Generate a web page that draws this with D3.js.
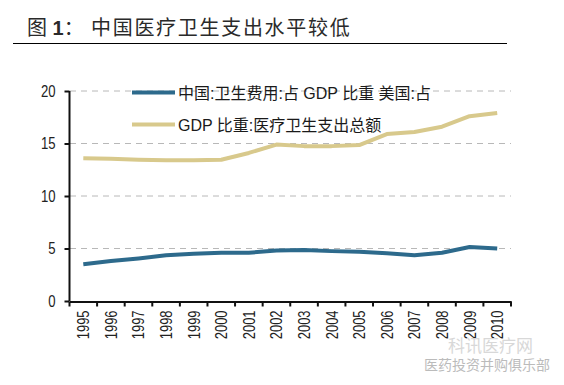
<!DOCTYPE html>
<html>
<head>
<meta charset="utf-8">
<script src="https://cdn.jsdelivr.net/npm/d3@7"></script>
<style>
  body { margin: 0; background: #fff; }
  text { font-family: Arial, "Liberation Sans", "Noto Sans CJK SC", sans-serif; }
</style>
</head>
<body>
<div class="area"></div>
<script>
var years = ['1995', '1996', '1997', '1998', '1999', '2000', '2001', '2002',
  '2003', '2004', '2005', '2006', '2007', '2008', '2009', '2010'];
var china = [3.5, 3.8, 4.05, 4.35, 4.5, 4.6, 4.6, 4.8,
  4.85, 4.75, 4.7, 4.55, 4.35, 4.6, 5.15, 5.0];
var usa = [13.6, 13.55, 13.45, 13.4, 13.4, 13.45, 14.1, 14.9,
  14.75, 14.75, 14.85, 15.9, 16.1, 16.6, 17.6, 17.9];
var yTicks = [0, 5, 10, 15, 20];
var seriesNames = ['中国:卫生费用:占 GDP 比重 美国:占', 'GDP 比重:医疗卫生支出总额'];
var colors = ['#2d6a8c', '#d8c98c'];

var svg = d3.select(".area")
    .append("svg")
    .attr('width', 564)
    .attr('height', 385)

// title + rule
var title = svg.append('text')
    .attr('x', 27)
    .attr('y', 35)
    .style('font-size', '20px')
    .attr('fill', '#2a2a2a')
title.append('tspan').text('图 ')
title.append('tspan').text('1').style('font-weight', 'bold')
title.append('tspan').text('：')
title.append('tspan')
    .attr('x', 91)
    .style('letter-spacing', '1.7px')
    .text('中国医疗卫生支出水平较低')

svg.append("line")
    .attr("x1", 13)
    .attr("y1", 43.5)
    .attr("x2", 507)
    .attr("y2", 43.5)
    .style("stroke", "black")
    .style("stroke-width", 1.2)

var x = d3.scaleBand().domain(years).range([69.5, 511]);
var y = d3.scaleLinear().domain([0, 20]).range([301, 91]);

// dashed grid
svg.selectAll('.grid')
    .data(yTicks.filter(function (d) { return d > 0; }))
    .enter().append('line')
    .attr('x1', 70)
    .attr('x2', 511)
    .attr('y1', function (d) { return y(d); })
    .attr('y2', function (d) { return y(d); })
    .style('stroke', '#b8b8b8')
    .style('stroke-width', 1)
    .style('stroke-dasharray', '6,5')

// y axis
var yAxis = svg.append('g')
    .attr('transform', 'translate(69.5,0)')
    .call(d3.axisLeft(y).tickValues(yTicks).tickSize(5).tickPadding(0).tickFormat(d3.format('d')));
yAxis.select('.domain').attr('stroke', '#111').attr('stroke-width', 2).attr('d', 'M0,' + y(20) + 'V' + y(0));
yAxis.selectAll('.tick line').attr('stroke', '#111').attr('stroke-width', 2);
yAxis.selectAll('.tick text')
    .attr('x', 0)
    .attr('transform', 'translate(-14,0) scale(0.82,1)')
    .style('font-size', '16px')
    .attr('fill', '#222');

// x axis: ticks between bands
var xAxis = svg.append('g')
    .attr('transform', 'translate(0,301.5)')
    .call(d3.axisBottom(x).tickSize(0).tickPadding(0));
xAxis.select('.domain').attr('stroke', '#111').attr('stroke-width', 2);
xAxis.selectAll('.tick text')
    .attr('transform', 'translate(0,9) rotate(-90) scale(0.76,1)')
    .attr('text-anchor', 'end')
    .attr('dy', '0.35em')
    .attr('y', 0)
    .attr('x', 0)
    .style('font-size', '17px')
    .attr('fill', '#222')

var edges = years.map(function (d) { return x(d); }).concat([x(years[15]) + x.bandwidth()]);
xAxis.selectAll('.edge')
    .data(edges)
    .enter().append('line')
    .attr('x1', function (d) { return d; })
    .attr('x2', function (d) { return d; })
    .attr('y1', 0)
    .attr('y2', 5)
    .attr('stroke', '#111')
    .attr('stroke-width', 2)

// lines
var line = d3.line()
    .x(function (d, i) { return x(years[i]) + x.bandwidth() / 2; })
    .y(function (d) { return y(d); });

[usa, china].forEach(function (s, k) {
    svg.append('path')
        .datum(s)
        .attr('d', line)
        .attr('fill', 'none')
        .attr('stroke', k == 0 ? colors[1] : colors[0])
        .attr('stroke-width', 4)
        .attr('stroke-linejoin', 'round')
})

// legend
for (var i = 0; i < 2; i++) {
    svg.append('line')
        .attr('x1', 132)
        .attr('x2', 175)
        .attr('y1', 92.5 + i * 32)
        .attr('y2', 92.5 + i * 32)
        .attr('stroke', colors[i])
        .attr('stroke-width', 4)

    svg.append('text')
        .attr('x', 178)
        .attr('y', 98.5 + i * 32)
        .text(seriesNames[i])
        .style('font-size', '16px')
        .attr('fill', '#1a1a1a')
}

// faint watermark
svg.append('text')
    .attr('x', 448)
    .attr('y', 352)
    .text('科讯医疗网')
    .style('font-size', '17px')
    .attr('fill', '#d8d8d8')
svg.append('text')
    .attr('x', 424)
    .attr('y', 370)
    .text('医药投资并购俱乐部')
    .style('font-size', '14px')
    .attr('fill', '#bbbbbb')
</script>
</body>
</html>
